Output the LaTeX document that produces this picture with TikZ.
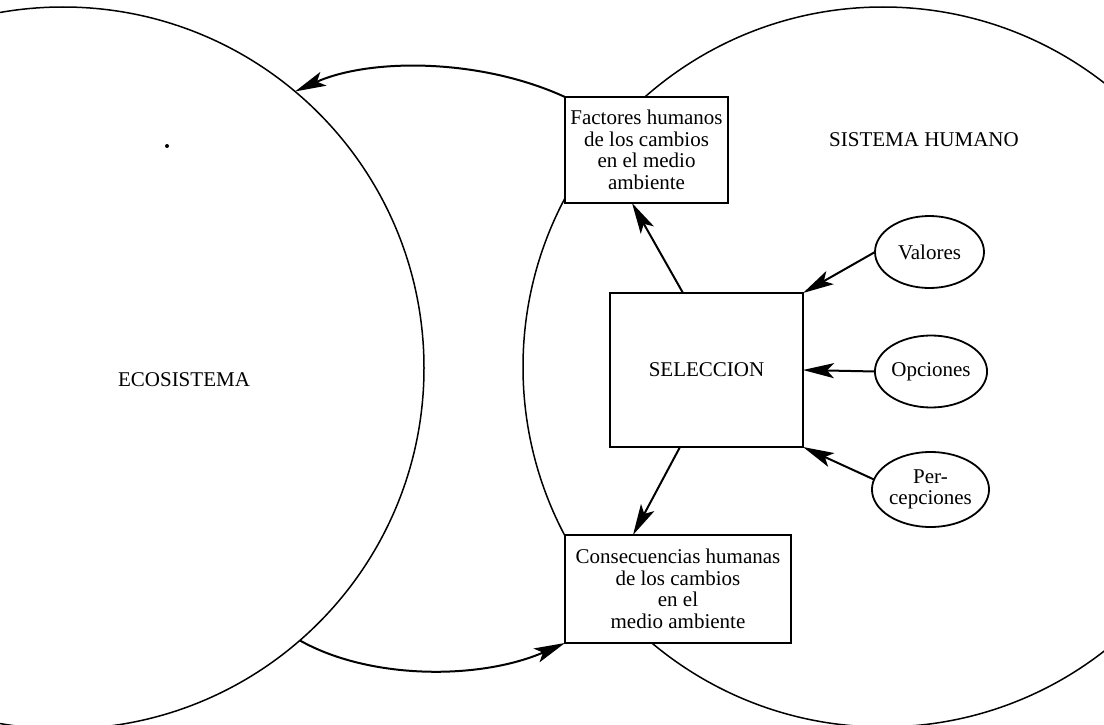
\documentclass[tikz,border=0pt]{standalone}
\usepackage{fontspec}
\setmainfont{Liberation Serif}
\usetikzlibrary{arrows.meta,calc,positioning,shapes.geometric}

\begin{document}
\begin{tikzpicture}[
    x=1pt,y=-1pt,
    font=\fontsize{21}{21.5}\selectfont,
    sysring/.style={draw,circle,line width=1.5pt,inner sep=0pt,outer sep=0pt},
    factbox/.style={draw,fill=white,line width=2pt,align=center,
      inner sep=0pt,outer sep=0pt},
    oval/.style={draw,ellipse,fill=white,line width=1.8pt,align=center,
      inner sep=0pt,outer sep=0pt,minimum width=109pt,minimum height=72pt},
    arrow/.style={-{Stealth[length=31pt,width=15pt,inset=7pt]},line width=2pt}
  ]
    \useasboundingbox (0,0) rectangle (1104,725);
    \clip (0,0) rectangle (1104,725);
    % the two systems
    \node[sysring,minimum size=722pt] (eco) at (63,368) {};
    \node[sysring,minimum size=720pt] (hum) at (883,367) {};
    \node (ecolbl) at (184,380) {ECOSISTEMA};
    \node (humlbl) at (924,140) {SISTEMA HUMANO};
    \fill (167,146) circle (2pt);
    % boxes
    \node[factbox,minimum width=163pt,minimum height=106pt] (fac) at (646.5,150)
      {Factores humanos\\de los cambios\\en el medio\\ambiente};
    \node[factbox,minimum width=193pt,minimum height=154pt] (sel) at (706.5,370)
      {SELECCION};
    \node[factbox,minimum width=226pt,minimum height=108pt] (con) at (678,589)
      {Consecuencias humanas\\de los cambios\\en el\\medio ambiente};
    \node[oval] (val) at (929.5,252) {Valores};
    \node[oval] (opc) at (931,371.5) {Opciones};
    \node[oval,minimum height=75pt] (per) at (930.5,489.5) {Per-\\cepciones};
    % connectors
    \draw[arrow] (fac.north west) .. controls (480,58) and (370,58) .. (eco.50.4);
    \draw[arrow] (eco.-49.4) .. controls (370,680) and (480,680) .. (con.south west);
    \draw[arrow] ([xshift=-23.5pt]sel.north) -- ([xshift=-14.5pt]fac.south);
    \draw[arrow] ([xshift=-26.5pt]sel.south) -- ([xshift=-45pt]con.north);
    \draw[arrow] (val.west) -- (sel.north east);
    \draw[arrow] (opc.west) -- (sel.east);
    \draw[arrow] (per.170) -- (sel.south east);
\end{tikzpicture}
\end{document}
